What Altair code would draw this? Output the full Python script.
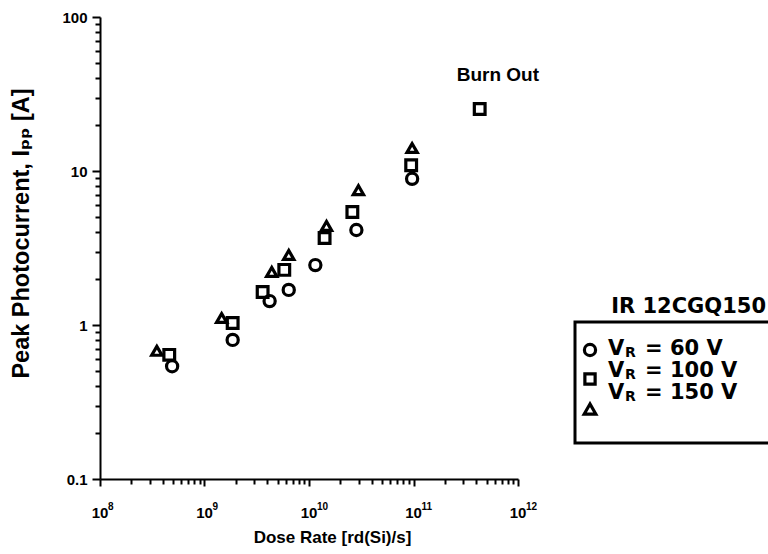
import altair as alt
import pandas as pd

# Peak photocurrent vs dose rate for the IR 12CGQ150 diode at three reverse biases
series = ["V_R = 60 V", "V_R = 100 V", "V_R = 150 V"]

dose_60 = [4.9e8, 1.86e9, 4.2e9, 6.4e9, 1.15e10, 2.84e10, 9.7e10]
ipp_60 = [0.54, 0.80, 1.43, 1.69, 2.45, 4.14, 8.9]

dose_100 = [4.6e8, 1.86e9, 3.6e9, 5.8e9, 1.41e10, 2.6e10, 9.5e10, 4.3e11]
ipp_100 = [0.64, 1.03, 1.64, 2.28, 3.67, 5.42, 10.9, 25.3]

dose_150 = [3.5e8, 1.46e9, 4.4e9, 6.4e9, 1.47e10, 2.97e10, 9.7e10]
ipp_150 = [0.68, 1.11, 2.21, 2.85, 4.4, 7.5, 14.1]

x_major = [1e8, 1e9, 1e10, 1e11, 1e12]
x_exponents = ["8", "9", "10", "11", "12"]
y_major = [0.1, 1, 10, 100]
legend_values = ["60 V", "100 V", "150 V"]
legend_title = "IR 12CGQ150"

rows = []
for name, xs, ys in zip(series, [dose_60, dose_100, dose_150], [ipp_60, ipp_100, ipp_150]):
    for d, i in zip(xs, ys):
        rows.append({"dose": d, "ipp": i, "series": name})
df = pd.DataFrame(rows)

x_minor = [k * 10 ** e for e in range(8, 12) for k in range(2, 10)]
y_minor = [k * 10.0 ** e for e in range(-1, 2) for k in range(2, 10)]

W, H = 418, 462
FONT = "Liberation Sans, Arial, DejaVu Sans"
WIDE = "DejaVu Sans"
shapes = ["circle", "square", "triangle-up"]
sizes = [125, 105, 135]
STROKE = 3.2

xscale = alt.Scale(type="log", domain=[1e8, 1e12], nice=False)
yscale = alt.Scale(type="log", domain=[0.1, 100], nice=False)

points = alt.Chart(df).mark_point(filled=False, color="black", strokeWidth=STROKE, opacity=1).encode(
    x=alt.X("dose:Q", scale=xscale, axis=alt.Axis(
        orient="bottom", values=x_major, labels=False, tickSize=7, tickWidth=2,
        domainWidth=2, grid=False, title="Dose Rate [rd(Si)/s]",
        titleFontSize=17, titleFontWeight="bold", titleFont=FONT,
        titleAlign="center", titleBaseline="middle", titleX=232, titleY=58)),
    y=alt.Y("ipp:Q", scale=yscale, axis=alt.Axis(
        orient="left", values=y_major, format="~g", tickSize=8, tickWidth=2,
        domainWidth=2, grid=False, labelPadding=5, labelFontSize=15,
        labelFontWeight="bold", labelFont=FONT,
        title="Peak Photocurrent, Iₚₚ [A]", titleFontSize=23.5, titleFontWeight="bold",
        titleFont=FONT, titleAngle=270, titleAlign="center", titleBaseline="middle",
        titleX=-79, titleY=216)),
    shape=alt.Shape("series:N", scale=alt.Scale(domain=series, range=shapes), legend=None),
    size=alt.Size("series:N", scale=alt.Scale(domain=series, range=sizes), legend=None),
)

minor = alt.Chart(df).mark_point(opacity=0).encode(
    x=alt.X("dose:Q", scale=xscale, axis=alt.Axis(
        orient="bottom", values=x_minor, labels=False, tickSize=5, tickWidth=2,
        domain=False, grid=False, title="")),
    y=alt.Y("ipp:Q", scale=yscale, axis=alt.Axis(
        orient="left", values=y_minor, labels=False, tickSize=5, tickWidth=2,
        domain=False, grid=False, title="")),
)

ticks_df = pd.DataFrame({"v": x_major, "exp": x_exponents})
tick_base = alt.Chart(ticks_df).mark_text(
    text="10", align="center", baseline="alphabetic", fontSize=15,
    fontWeight="bold", font=FONT, color="black").encode(
    x=alt.X("v:Q", scale=xscale, axis=None), y=alt.value(H + 39))
tick_exp = alt.Chart(ticks_df).mark_text(
    align="left", baseline="alphabetic", fontSize=10, fontWeight="bold",
    font=FONT, color="black", dx=8).encode(
    x=alt.X("v:Q", scale=xscale, axis=None), y=alt.value(H + 31), text="exp:N")

burn_df = pd.DataFrame({"dose": [dose_100[-1]], "ipp": [ipp_100[-1]]})
burn = alt.Chart(burn_df).mark_text(
    text="Burn Out", align="left", baseline="middle", fontSize=19, fontWeight="bold",
    font=FONT, color="black", dx=-23, dy=-34).encode(
    x=alt.X("dose:Q", scale=xscale, axis=None), y=alt.Y("ipp:Q", scale=yscale, axis=None))

# hand-built legend box to the right of the plot
one = pd.DataFrame({"k": [0]})
box = alt.Chart(one).mark_rect(fillOpacity=0, stroke="black", strokeWidth=3).encode(
    x=alt.value(475), x2=alt.value(720), y=alt.value(305), y2=alt.value(426))
title = alt.Chart(one).mark_text(
    text=legend_title, align="right", baseline="middle", fontSize=21,
    fontWeight="bold", font=WIDE, color="black").encode(x=alt.value(666), y=alt.value(290))

legend_layers = [box, title]
sym_y = [333, 362, 392]
row_y = [332, 354, 376]
for i, val in enumerate(legend_values):
    legend_layers.append(alt.Chart(one).mark_point(
        shape=shapes[i], filled=False, color="black", strokeWidth=STROKE, size=sizes[i], opacity=1
    ).encode(x=alt.value(490), y=alt.value(sym_y[i])))
    legend_layers.append(alt.Chart(one).mark_text(
        text="V", align="left", baseline="middle", fontSize=21, fontWeight="bold",
        font=WIDE, color="black").encode(x=alt.value(508), y=alt.value(row_y[i])))
    legend_layers.append(alt.Chart(one).mark_text(
        text="R", align="left", baseline="middle", fontSize=14, fontWeight="bold",
        font=WIDE, color="black").encode(x=alt.value(525), y=alt.value(row_y[i] + 4)))
    legend_layers.append(alt.Chart(one).mark_text(
        text="= " + val, align="left", baseline="middle", fontSize=21, fontWeight="bold",
        font=WIDE, color="black").encode(x=alt.value(545), y=alt.value(row_y[i])))

chart = alt.layer(points, minor, tick_base, tick_exp, burn, *legend_layers).resolve_axis(
    x="independent", y="independent"
).properties(
    width=W, height=H,
    autosize=alt.AutoSizeParams(type="none"),
    padding={"left": 100, "top": 17, "right": 250, "bottom": 75},
).configure_view(stroke=None).configure_axis(
    domainColor="black", tickColor="black", labelColor="black", titleColor="black"
)

chart.save("out.html", embed_options={"renderer": "svg", "actions": False})
